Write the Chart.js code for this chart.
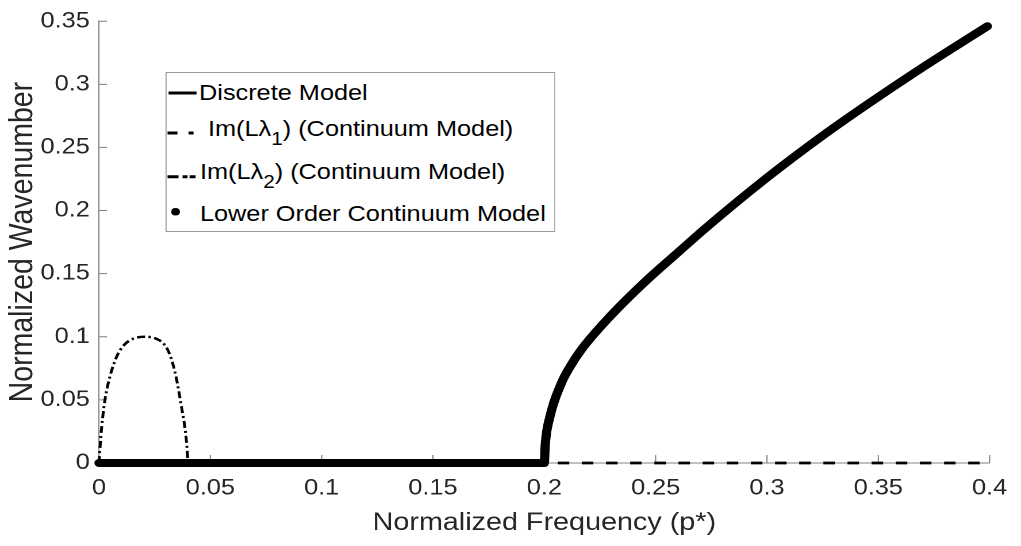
<!DOCTYPE html>
<html>
<head>
<meta charset="utf-8">
<script src="https://cdn.jsdelivr.net/npm/chart.js@4.4.0/dist/chart.umd.min.js"></script>
<style>
  html, body { margin: 0; padding: 0; background: #fff; overflow: hidden; }
  /* figure is laid out narrow and stretched sideways */
  #wrap {
    position: absolute; left: 0; top: 0;
    width: 888px; height: 546px;
    transform: scaleX(1.14977); transform-origin: 0 0;
  }
  #legend {
    position: absolute; left: 143.5px; top: 72px;
    width: 339px; height: 160px;
    border: 1px solid #9a9a9a; background: #fff; box-sizing: border-box;
    font-family: "Liberation Sans", Arial, sans-serif; font-size: 22px; color: #000;
  }
  #legend svg { position: absolute; left: 0; top: 0; }
  .row { position: absolute; line-height: 22px; white-space: nowrap; }
  .row sub { font-size: 18px; vertical-align: -9px; line-height: 0; }
</style>
</head>
<body>
<div id="wrap">
  <canvas id="chart"></canvas>
  <div id="legend">
    <svg width="40" height="158">
      <line x1="1.6" y1="20" x2="26" y2="20" stroke="#000" stroke-width="3"/>
      <line x1="0.7" y1="60" x2="9.4" y2="60" stroke="#000" stroke-width="3"/>
      <line x1="19" y1="60" x2="23.4" y2="60" stroke="#000" stroke-width="3"/>
      <line x1="0.7" y1="103.7" x2="10.3" y2="103.7" stroke="#000" stroke-width="3"/>
      <line x1="13.8" y1="103.7" x2="18.1" y2="103.7" stroke="#000" stroke-width="3"/>
      <line x1="19.9" y1="103.7" x2="25.1" y2="103.7" stroke="#000" stroke-width="3"/>
      <circle cx="7.7" cy="138.7" r="3.8" fill="#000"/>
    </svg>
    <span class="row" style="left:28.6px; top:9.1px;">Discrete Model</span>
    <span class="row" style="left:36.4px; top:45.1px;">Im(L&lambda;<sub>1</sub>) (Continuum Model)</span>
    <span class="row" style="left:29.4px; top:88.4px;">Im(L&lambda;<sub>2</sub>) (Continuum Model)</span>
    <span class="row" style="left:29.4px; top:130.1px;">Lower Order Continuum Model</span>
  </div>
</div>
<script>
// Discrete model / lower order continuum model (same branch)
const curveX = [0, 0.2, 0.2004, 0.2025, 0.2076, 0.2115, 0.2165, 0.230, 0.2452, 0.2608, 0.272, 0.300, 0.325, 0.345, 0.370, 0.399];
const curveY = [0, 0, 0.014, 0.0365, 0.063, 0.0761, 0.0895, 0.117, 0.1435, 0.168, 0.1854, 0.226, 0.2593, 0.284, 0.3135, 0.346];

// Im(L lambda_1), continuum model
const lambda1X = [0, 0.4];
const lambda1Y = [0, 0];

// Im(L lambda_2), continuum model
const lambda2X = [0, 0.0008, 0.0025, 0.005, 0.008, 0.011, 0.015, 0.0206, 0.026, 0.0295, 0.032, 0.0345, 0.0367, 0.0392, 0.04];
const lambda2Y = [0, 0.0205, 0.048, 0.069, 0.0845, 0.093, 0.0982, 0.1, 0.0982, 0.0935, 0.085, 0.069, 0.048, 0.0185, 0];

const xTicks = [0, 0.05, 0.1, 0.15, 0.2, 0.25, 0.3, 0.35, 0.4];
const xTickLabels = ['0', '0.05', '0.1', '0.15', '0.2', '0.25', '0.3', '0.35', '0.4'];
const yTicks = [0, 0.05, 0.1, 0.15, 0.2, 0.25, 0.3, 0.35];
const yTickLabels = ['0', '0.05', '0.1', '0.15', '0.2', '0.25', '0.3', '0.35'];

const FONT = '"Liberation Sans", Arial, sans-serif';
const TEXT_COLOR = '#262626';
const AXIS_COLOR = '#808080';

function points(xs, ys) {
    return xs.map((x, i) => ({ x: x, y: ys[i] }));
}

// small tick marks pointing into the plot
const inwardTicks = {
    id: 'inwardTicks',
    beforeDatasetsDraw(chart) {
        const { ctx, chartArea, scales } = chart;
        ctx.save();
        ctx.strokeStyle = AXIS_COLOR;
        ctx.lineWidth = 1;
        ctx.beginPath();
        xTicks.forEach(v => {
            const px = scales.x.getPixelForValue(v);
            ctx.moveTo(px, chartArea.bottom);
            ctx.lineTo(px, chartArea.bottom - 8);
        });
        yTicks.forEach(v => {
            const py = scales.y.getPixelForValue(v);
            ctx.moveTo(chartArea.left, py);
            ctx.lineTo(chartArea.left + 7, py);
        });
        ctx.stroke();
        ctx.restore();
    }
};

const lineDefaults = {
    showLine: true,
    pointRadius: 0,
    borderColor: '#000',
    fill: false,
    clip: false,
    cubicInterpolationMode: 'monotone'
};

new Chart(document.getElementById('chart'), {
    type: 'scatter',
    data: {
        datasets: [
            Object.assign({}, lineDefaults, {
                label: 'Im(Lλ2) (Continuum Model)',
                data: points(lambda2X, lambda2Y),
                borderWidth: 2.5,
                borderDash: [7, 3, 2, 3],
                order: 1
            }),
            Object.assign({}, lineDefaults, {
                label: 'Discrete Model',
                data: points(curveX, curveY),
                borderWidth: 2.5,
                order: 2
            }),
            Object.assign({}, lineDefaults, {
                label: 'Lower Order Continuum Model',
                data: points(curveX, curveY),
                borderWidth: 8,
                borderCapStyle: 'round',
                borderJoinStyle: 'round',
                order: 3
            }),
            Object.assign({}, lineDefaults, {
                label: 'Im(Lλ1) (Continuum Model)',
                data: points(lambda1X, lambda1Y),
                borderWidth: 2.8,
                borderDash: [10, 11],
                cubicInterpolationMode: 'default',
                order: 4
            })
        ]
    },
    options: {
        responsive: true,
        maintainAspectRatio: false,
        animation: false,
        devicePixelRatio: 2,
        layout: { padding: { top: 19, right: 24.3, bottom: 0, left: 0 } },
        plugins: {
            legend: { display: false },
            tooltip: { enabled: false }
        },
        scales: {
            x: {
                type: 'linear',
                min: 0,
                max: 0.4,
                grid: { display: false, drawTicks: false },
                border: { display: true, color: AXIS_COLOR, width: 1 },
                afterBuildTicks: s => { s.ticks = xTicks.map(v => ({ value: v })); },
                afterFit: s => { s.height = 83; },
                ticks: {
                    padding: 12,
                    color: TEXT_COLOR,
                    font: { family: FONT, size: 22 },
                    maxRotation: 0,
                    callback: (v, i) => xTickLabels[i]
                },
                title: {
                    display: true,
                    text: 'Normalized Frequency (p*)',
                    color: TEXT_COLOR,
                    font: { family: FONT, size: 25 },
                    padding: { top: 0, bottom: 8 }
                }
            },
            y: {
                type: 'linear',
                min: 0,
                max: 0.35,
                grid: { display: false, drawTicks: false },
                border: { display: true, color: AXIS_COLOR, width: 1 },
                afterBuildTicks: s => { s.ticks = yTicks.map(v => ({ value: v })); },
                afterFit: s => { s.width = 86.1; },
                ticks: {
                    padding: 8,
                    color: TEXT_COLOR,
                    font: { family: FONT, size: 22 },
                    callback: (v, i) => yTickLabels[i]
                },
                title: {
                    display: true,
                    text: 'Normalized Wavenumber',
                    color: TEXT_COLOR,
                    font: { family: FONT, size: 28.5 },
                    padding: { top: 3, bottom: 0 }
                }
            }
        }
    },
    plugins: [inwardTicks]
});
</script>
</body>
</html>
